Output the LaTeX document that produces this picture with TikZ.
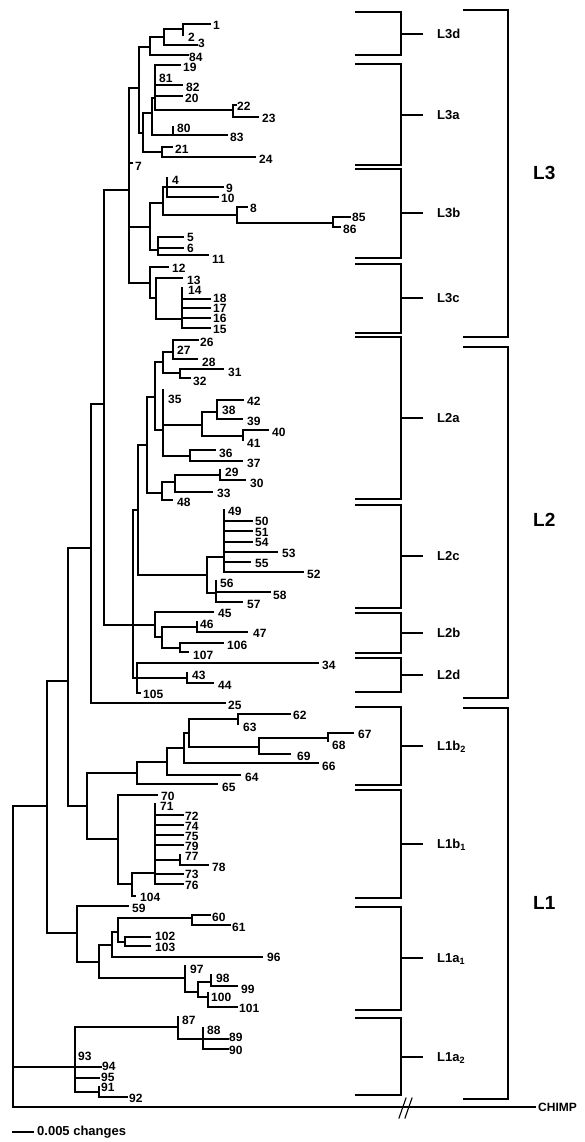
\documentclass[tikz,border=0pt]{standalone}
\usepackage{fontspec}
\setmainfont{Liberation Sans}
\newcommand\TNode[3]{\coordinate (#1) at (#3); \draw[br] (#2) |- (#1);}
\newcommand\TLeaf[5]{\coordinate (#1) at (#3); \draw[br] (#2) |- (#1); \node[lab] (#1t) at (#4) {#5};}
\newcommand\Brk[5]{\coordinate (#1T) at (355,#2); \coordinate (#1TR) at (401,#2); \coordinate (#1BR) at (401,#3); \coordinate (#1B) at (355,#3); \coordinate (#1M) at (401,#4); \coordinate (#1E) at (423,#4);
 \draw[bk] (#1T) -- (#1TR) -- (#1BR) -- (#1B); \draw[bk] (#1M) -- (#1E); \node[sub] (#1L) at (437,#4+4.6) {#5};}
\newcommand\BigBrk[5]{\coordinate (#1T) at (463,#2); \coordinate (#1TR) at (508,#2); \coordinate (#1BR) at (508,#3); \coordinate (#1B) at (463,#3);
 \draw[bk] (#1T) -- (#1TR) -- (#1BR) -- (#1B); \node[big] (#1L) at (533,#4) {#5};}
\tikzset{
 br/.style={line width=1.1pt, line cap=rect},
 bk/.style={line width=1.4pt},
 lab/.style={font=\bfseries\fontsize{12}{12}\selectfont, inner sep=0pt, anchor=west},
 sub/.style={font=\bfseries\fontsize{13}{14}\selectfont, inner sep=0pt, anchor=base west},
 big/.style={font=\bfseries\fontsize{19}{20}\selectfont, inner sep=0pt, anchor=west}
}
\begin{document}
\begin{tikzpicture}[x=1pt,y=-1pt]
\useasboundingbox[fill=white] (0,0) rectangle (584,1142);
% root
\coordinate (R) at (13,950);
\TNode{A47}{R}{47,806}
\TNode{X}{R}{75,1067}
\coordinate (chimp) at (535,1107); \draw[br] (R) |- (chimp);
\node[lab] (chimpl) at (538,1107) {CHIMP};
\draw[br] (399,1118) -- (406,1098); \draw[br] (405,1118) -- (412,1098);
\TNode{A68}{A47}{68,681}
\TNode{L1a}{A47}{77,933}
\TNode{A91}{A68}{91,548}
\TNode{L1b}{A68}{87,806}
\TNode{A104}{A91}{104,404}
\TLeaf{l25}{A91}{225,703}{228,705}{25}
\TNode{L3}{A104}{129,190}
\TNode{L2}{A104}{133,625}
% L3
\TNode{L3da}{L3}{139,88}
\TLeaf{l7}{L3}{132,163}{135,166}{7}
\TNode{L3b}{L3}{150,227}
\TNode{L3c}{L3}{150,283}
\TNode{L3d}{L3da}{150,47}
\TNode{L3aA}{L3da}{143,133}
\TNode{n164}{L3d}{164,37}
\TLeaf{l84}{L3d}{188,55}{189,57.5}{84}
\TNode{n183}{n164}{183,29}
\TLeaf{l3}{n164}{197,45}{198,43.5}{3}
\TLeaf{l1}{n183}{210,24}{213,25}{1}
\TLeaf{l2}{n183}{183,35}{188,37}{2}
\TNode{L3aB}{L3aA}{152,113}
\TNode{n162}{L3aA}{162,152}
\TNode{P1}{L3aB}{155,98}
\TNode{n173}{L3aB}{173,135}
\TLeaf{l19}{P1}{180,65}{183,67.5}{19}
\TLeaf{l81}{P1}{155,78}{159,78}{81}
\TLeaf{l82}{P1}{182,85}{186,87.5}{82}
\TLeaf{l20}{P1}{182,96}{185,98.5}{20}
\TNode{n233}{P1}{233,110}
\TLeaf{l22}{n233}{236,105}{237,106}{22}
\TLeaf{l23}{n233}{258,117}{262,118}{23}
\TLeaf{l80}{n173}{173,127}{177,128}{80}
\TLeaf{l83}{n173}{227,135}{230,137}{83}
\TLeaf{l21}{n162}{172,147}{175,149}{21}
\TLeaf{l24}{n162}{255,157}{259,159}{24}
\TNode{n163}{L3b}{163,203}
\TNode{n158}{L3b}{158,250}
\TNode{n167}{n163}{167,187}
\TNode{n237}{n163}{237,215}
\TLeaf{l4}{n167}{167,178}{172,180}{4}
\TLeaf{l9}{n167}{223,187}{226,188.5}{9}
\TLeaf{l10}{n167}{218,197}{221,198.5}{10}
\TLeaf{l8}{n237}{247,207}{250,208}{8}
\TNode{n333}{n237}{333,223}
\TLeaf{l85}{n333}{350,217}{352,217}{85}
\TLeaf{l86}{n333}{340,227}{343,229}{86}
\TLeaf{l5}{n158}{183,237}{187,237}{5}
\TLeaf{l6}{n158}{183,248}{187,248}{6}
\TLeaf{l11}{n158}{208,255}{212,259}{11}
\TLeaf{l12}{L3c}{168,267}{172,268}{12}
\TNode{n156}{L3c}{156,298}
\TLeaf{l13}{n156}{182,278}{187,280}{13}
\TNode{n182}{n156}{182,319}
\TLeaf{l14}{n182}{182,288}{188,290}{14}
\TLeaf{l18}{n182}{210,299}{213,298.5}{18}
\TLeaf{l17}{n182}{210,308}{213,308.5}{17}
\TLeaf{l16}{n182}{210,318}{213,318.5}{16}
\TLeaf{l15}{n182}{210,328}{213,329}{15}
% L2
\TNode{L2ac}{L2}{138,510}
\TNode{L2b}{L2}{155,625}
\TNode{L2d}{L2}{137,678}
\TNode{L2a}{L2ac}{147,445}
\TNode{L2c}{L2ac}{207,575}
\TNode{nA}{L2a}{155,397}
\TNode{nJ}{L2a}{162,493}
\TNode{nB}{nA}{163,362}
\TNode{nE}{nA}{163,430}
\TNode{nC}{nB}{173,352}
\TNode{nD}{nB}{180,373}
\TLeaf{l26}{nC}{198,340}{200,342}{26}
\TLeaf{l27}{nC}{173,351}{177,350}{27}
\TLeaf{l28}{nC}{197,359}{202,362}{28}
\TLeaf{l31}{nD}{223,369}{228,372}{31}
\TLeaf{l32}{nD}{190,378}{193,381}{32}
\TLeaf{l35}{nE}{163,390}{168,399}{35}
\TNode{nF}{nE}{202,425}
\TNode{nI}{nE}{190,456}
\TNode{nG}{nF}{217,412}
\TNode{nH}{nF}{243,436}
\TLeaf{l42}{nG}{243,400}{247,401}{42}
\TLeaf{l38}{nG}{217,410}{222,410}{38}
\TLeaf{l39}{nG}{242,419}{247,421}{39}
\TLeaf{l40}{nH}{268,430}{272,432}{40}
\TLeaf{l41}{nH}{243,440}{247,443}{41}
\TLeaf{l36}{nI}{215,450}{219,453}{36}
\TLeaf{l37}{nI}{242,461}{247,463}{37}
\TNode{nK}{nJ}{175,482}
\TLeaf{l48}{nJ}{172,500}{177,502}{48}
\TNode{nL}{nK}{220,475}
\TLeaf{l33}{nK}{212,492}{217,493}{33}
\TLeaf{l29}{nL}{220,470}{225,472.5}{29}
\TLeaf{l30}{nL}{245,480}{250,483}{30}
\TNode{nM}{L2c}{224,557}
\TNode{nN}{L2c}{216,593}
\TLeaf{l49}{nM}{224,510}{228,511.5}{49}
\TLeaf{l50}{nM}{252,521}{255,521.5}{50}
\TLeaf{l51}{nM}{252,531}{255,532}{51}
\TLeaf{l54}{nM}{252,542}{255,542.5}{54}
\TLeaf{l53}{nM}{277,552}{282,553}{53}
\TLeaf{l55}{nM}{250,562}{255,563}{55}
\TLeaf{l52}{nM}{303,572}{307,574}{52}
\TLeaf{l56}{nN}{216,581}{220,583}{56}
\TLeaf{l58}{nN}{270,592}{273,595}{58}
\TLeaf{l57}{nN}{242,602}{247,604}{57}
\TLeaf{l45}{L2b}{213,612}{218,613}{45}
\TNode{nO}{L2b}{162,637}
\TNode{nP}{nO}{197,627}
\TNode{nQ}{nO}{180,648}
\TLeaf{l46}{nP}{197,622}{200,624}{46}
\TLeaf{l47}{nP}{247,632}{253,633}{47}
\TLeaf{l106}{nQ}{223,643}{227,645}{106}
\TLeaf{l107}{nQ}{188,652}{193,655}{107}
\TLeaf{l34}{L2d}{318,663}{322,665}{34}
\TNode{nR}{L2d}{187,678}
\TLeaf{l105}{L2d}{140,693}{143,694}{105}
\TLeaf{l43}{nR}{187,673}{192,675}{43}
\TLeaf{l44}{nR}{213,683}{218,685}{44}
% L1b
\TNode{nS}{L1b}{137,773}
\TNode{L1bb}{L1b}{118,839}
\TNode{nT}{nS}{167,762}
\TLeaf{l65}{nS}{217,784}{222,787}{65}
\TNode{nP2}{nT}{184,748}
\TLeaf{l64}{nT}{240,775}{245,777}{64}
\TNode{nQ2}{nP2}{189,733}
\TLeaf{l66}{nP2}{318,763}{322,766}{66}
\TNode{n238}{nQ2}{238,719}
\TNode{n259}{nQ2}{259,747}
\TLeaf{l62}{n238}{290,714}{293,715}{62}
\TLeaf{l63}{n238}{238,724}{243,727}{63}
\TNode{n328}{n259}{328,738}
\TLeaf{l69}{n259}{290,754}{297,756}{69}
\TLeaf{l67}{n328}{353,733}{358,734}{67}
\TLeaf{l68}{n328}{328,741}{332,745}{68}
\TLeaf{l70}{L1bb}{157,795}{161,796}{70}
\TNode{n132}{L1bb}{132,884}
\TNode{nR2}{n132}{155,873}
\TLeaf{l104}{n132}{135,896}{140,897}{104}
\TLeaf{l71}{nR2}{155,804}{160,806}{71}
\TLeaf{l72}{nR2}{183,815}{185,816}{72}
\TLeaf{l74}{nR2}{183,825}{185,826}{74}
\TLeaf{l75}{nR2}{183,835}{185,836}{75}
\TLeaf{l79}{nR2}{183,845}{185,846}{79}
\TNode{n180}{nR2}{180,860}
\TLeaf{l73}{nR2}{183,874}{185,874.5}{73}
\TLeaf{l76}{nR2}{183,884}{185,885.5}{76}
\TLeaf{l77}{n180}{180,855}{185,856.5}{77}
\TLeaf{l78}{n180}{208,865}{212,867}{78}
% L1a
\TLeaf{l59}{L1a}{128,906}{132,908}{59}
\TNode{nS2}{L1a}{99,962}
\TNode{nT2}{nS2}{112,945}
\TNode{nV}{nS2}{185,978}
\TNode{nU}{nT2}{118,932}
\TLeaf{l96}{nT2}{262,957}{267,957}{96}
\TNode{n192}{nU}{192,918}
\TNode{n125}{nU}{125,942}
\TLeaf{l60}{n192}{210,915}{212,917}{60}
\TLeaf{l61}{n192}{230,925}{232,927}{61}
\TLeaf{l102}{n125}{150,937}{155,936.5}{102}
\TLeaf{l103}{n125}{150,946}{155,947}{103}
\TLeaf{l97}{nV}{185,966}{190,969}{97}
\TNode{nW}{nV}{198,992}
\TNode{n211}{nW}{211,982}
\TNode{n208}{nW}{208,997}
\TLeaf{l98}{n211}{211,975}{216,978}{98}
\TLeaf{l99}{n211}{237,986}{241,989.5}{99}
\TLeaf{l100}{n208}{208,993}{211,997.5}{100}
\TLeaf{l101}{n208}{237,1007}{239,1008}{101}
% L1a2
\TNode{n178}{X}{178,1027}
\TLeaf{l93}{X}{75,1058}{78,1056.5}{93}
\TLeaf{l94}{X}{101,1067}{102,1066.5}{94}
\TLeaf{l95}{X}{99,1078}{101,1077}{95}
\TNode{n99}{X}{99,1092}
\TLeaf{l91}{n99}{99,1087}{101,1087.5}{91}
\TLeaf{l92}{n99}{127,1097}{129,1098}{92}
\TLeaf{l87}{n178}{178,1017}{182,1020}{87}
\TNode{n203}{n178}{203,1039}
\TLeaf{l88}{n203}{203,1028}{207,1030}{88}
\TLeaf{l89}{n203}{228,1039}{229,1037.5}{89}
\TLeaf{l90}{n203}{228,1049}{229,1050}{90}
% brackets
\Brk{b3d}{12}{55}{34}{L3d}
\Brk{b3a}{64}{165}{115}{L3a}
\Brk{b3b}{169}{258}{213}{L3b}
\Brk{b3c}{264}{333}{298}{L3c}
\Brk{b2a}{337}{499}{418}{L2a}
\Brk{b2c}{505}{608}{556}{L2c}
\Brk{b2b}{613}{653}{633}{L2b}
\Brk{b2d}{658}{692}{675}{L2d}
\Brk{b1b2}{707}{785}{746}{L1b\textsubscript{2}}
\Brk{b1b1}{790}{898}{844}{L1b\textsubscript{1}}
\Brk{b1a1}{907}{1010}{958}{L1a\textsubscript{1}}
\Brk{b1a2}{1018}{1095}{1057}{L1a\textsubscript{2}}
\BigBrk{B3}{10}{337}{173}{L3}
\BigBrk{B2}{347}{698}{520}{L2}
\BigBrk{B1}{708}{1099}{903}{L1}
% scale bar
\coordinate (sb1) at (13,1132); \coordinate (sb2) at (33,1132);
\draw[br] (sb1) -- (sb2);
\node[lab, font=\bfseries\fontsize{13}{13}\selectfont] (sbl) at (37,1132) {0.005 changes};
\end{tikzpicture}
\end{document}
